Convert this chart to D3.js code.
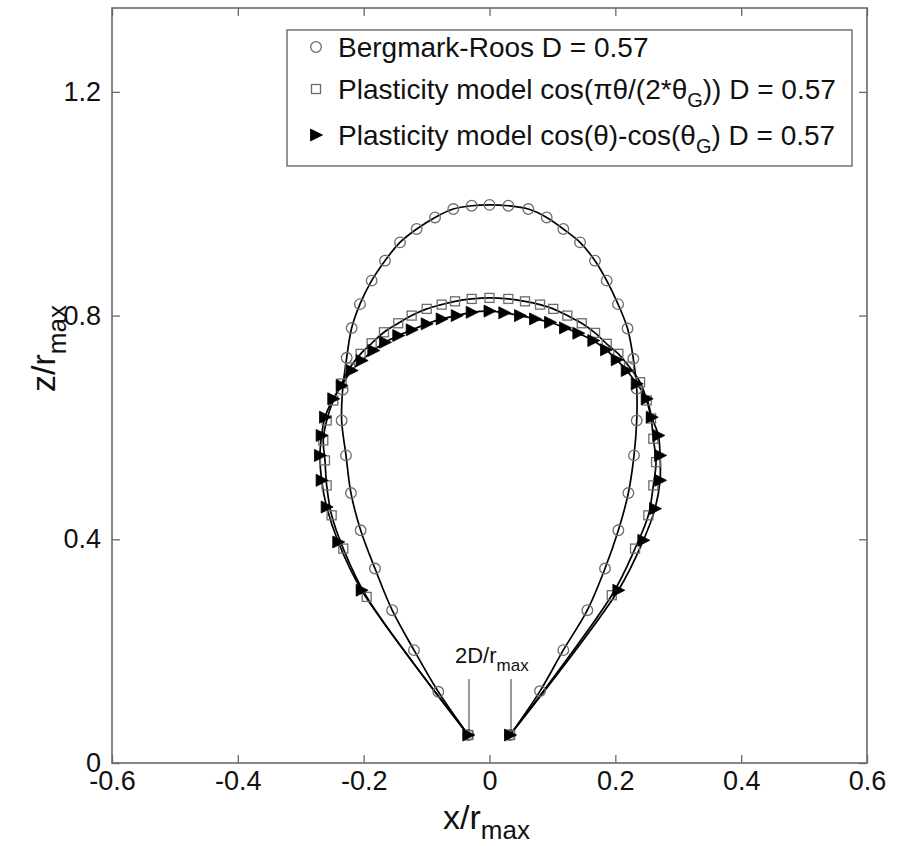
<!DOCTYPE html>
<html><head><meta charset="utf-8">
<script src="https://cdn.jsdelivr.net/npm/d3@7"></script>
<style>
body{margin:0;background:#fff}
svg{display:block}
text{font-family:"Liberation Sans",Arial,Helvetica,sans-serif;fill:#111}
</style>
</head><body>
<svg id="chart" width="902" height="846"></svg>
<script>
// ---- data ----
const xTicks = [-0.6, -0.4, -0.2, 0, 0.2, 0.4, 0.6];
const xTickLabels = ["-0.6", "-0.4", "-0.2", "0", "0.2", "0.4", "0.6"];
const yTicks = [0, 0.4, 0.8, 1.2];
const yTickLabels = ["0", "0.4", "0.8", "1.2"];

// Bergmark-Roos D = 0.57 (circles)
const brX = [-0.0337,-0.0814,-0.1200,-0.1547,-0.1820,-0.2048,-0.2202,-0.2281,-0.2350,-0.2334,-0.2270,-0.2191,-0.2059,-0.1873,-0.1661,-0.1423,-0.1157,-0.0866,-0.0576,-0.0283,0,0.0299,0.0617,0.0909,0.1173,0.1439,0.1677,0.1863,0.2043,0.2194,0.2286,0.2340,0.2340,0.2297,0.2207,0.2048,0.1836,0.1555,0.1173,0.0803,0.0326];
const brZ = [0.050,0.1273,0.2018,0.2732,0.3477,0.4161,0.4827,0.5500,0.6125,0.6673,0.7245,0.7777,0.8205,0.8625,0.8982,0.9309,0.9548,0.9755,0.9905,0.9964,0.998,0.9964,0.9905,0.9755,0.9548,0.9309,0.8982,0.8625,0.8205,0.7768,0.7227,0.6691,0.6125,0.5500,0.4827,0.4161,0.3477,0.2732,0.2018,0.1286,0.050];

// Plasticity model cos(pi*theta/(2*thetaG)) D = 0.57 (squares)
const cosX = [-0.0337,-0.1952,-0.2324,-0.2509,-0.2588,-0.2615,-0.2642,-0.2588,-0.2483,-0.2350,-0.2218,-0.2048,-0.1873,-0.1677,-0.1450,-0.1237,-0.0998,-0.0760,-0.0548,-0.0283,0,0.0299,0.0564,0.0803,0.1014,0.1237,0.1466,0.1677,0.1863,0.2048,0.2218,0.2393,0.2499,0.2568,0.2604,0.2647,0.2604,0.2525,0.2313,0.1943,0.0326];
const cosZ = [0.050,0.2970,0.3834,0.4429,0.4964,0.5411,0.5768,0.6125,0.6482,0.6786,0.7071,0.7316,0.7505,0.7702,0.7863,0.8000,0.8120,0.8196,0.8255,0.8298,0.8316,0.8298,0.8255,0.8196,0.8120,0.8000,0.7863,0.7691,0.7495,0.7316,0.7089,0.6809,0.6482,0.6161,0.5798,0.5380,0.4964,0.4429,0.3834,0.3000,0.050];

// Plasticity model cos(theta)-cos(thetaG) D = 0.57 (filled triangles)
const difX = [-0.0337,-0.2032,-0.2404,-0.2588,-0.2668,-0.2695,-0.2668,-0.2615,-0.2483,-0.2350,-0.2191,-0.2032,-0.1847,-0.1661,-0.1450,-0.1237,-0.0998,-0.0760,-0.0521,-0.0283,0,0.0235,0.0485,0.0723,0.0962,0.1200,0.1412,0.1650,0.1852,0.2022,0.2181,0.2340,0.2499,0.2579,0.2684,0.2711,0.2711,0.2631,0.2445,0.2048,0.0326];
const difZ = [0.050,0.3089,0.3952,0.4577,0.5054,0.5500,0.5857,0.6184,0.6513,0.6750,0.7018,0.7196,0.7375,0.7523,0.7643,0.7745,0.7852,0.7941,0.8000,0.8059,0.8080,0.8050,0.8000,0.7941,0.7880,0.7780,0.7684,0.7554,0.7388,0.7209,0.7018,0.6780,0.6513,0.6184,0.5857,0.5500,0.5054,0.4548,0.3982,0.3089,0.050];

// 2D/r_max annotation guide lines (data units)
const gapX = [-0.0326, 0.0342];
const gapZ = [0.055, 0.15];

// ---- drawing ----
const svg = d3.select("#chart");
const L = 112, T = 8, W = 755, H = 755;
const x = d3.scaleLinear().domain([-0.6, 0.6]).range([L, L + W]);
const y = d3.scaleLinear().domain([0, 1.35]).range([T + H, T]);
const frame = "#6a6a6a";
const markGray = "#6c6c6c";

svg.append("rect").attr("width", 902).attr("height", 846).attr("fill", "#fff");

function styleAxis(g) {
  g.select(".domain").remove();
  g.selectAll(".tick line").attr("stroke", frame).attr("stroke-width", 1.3);
  g.selectAll(".tick text").attr("fill", "#111").style("font-size", "27px")
    .style("font-family", "'Liberation Sans', Arial, sans-serif");
}

svg.append("g").attr("transform", `translate(0,${T + H})`)
  .call(d3.axisBottom(x).tickValues(xTicks).tickSize(-8).tickPadding(8)
    .tickFormat((d, i) => xTickLabels[i]))
  .call(styleAxis);
svg.append("g").attr("transform", `translate(${L},0)`)
  .call(d3.axisLeft(y).tickValues(yTicks).tickSize(-8).tickPadding(11)
    .tickFormat((d, i) => yTickLabels[i]))
  .call(styleAxis);
svg.append("g").attr("transform", `translate(0,${T})`)
  .call(d3.axisTop(x).tickValues(xTicks).tickSize(-8).tickFormat(""))
  .call(styleAxis);
svg.append("g").attr("transform", `translate(${L + W},0)`)
  .call(d3.axisRight(y).tickValues(yTicks).tickSize(-8).tickFormat(""))
  .call(styleAxis);

svg.append("rect").attr("x", L).attr("y", T).attr("width", W).attr("height", H)
  .attr("fill", "none").attr("stroke", frame).attr("stroke-width", 1.6);

// series
const series = [
  { xs: brX, zs: brZ, marker: "circle" },
  { xs: cosX, zs: cosZ, marker: "square" },
  { xs: difX, zs: difZ, marker: "triangle" }
];
const line = d3.line().x(d => x(d[0])).y(d => y(d[1])).curve(d3.curveCatmullRom.alpha(0.5));
const plot = svg.append("g");
series.forEach(s => {
  const pts = s.xs.map((v, i) => [v, s.zs[i]]);
  plot.append("path").attr("d", line(pts)).attr("fill", "none")
    .attr("stroke", "#000").attr("stroke-width", 1.7);
});
const triPath = "M-5.5,-6L6.5,0L-5.5,6Z";
function drawMarker(g, type, cx, cy) {
  if (type === "circle") {
    g.append("circle").attr("cx", cx).attr("cy", cy).attr("r", 5.3)
      .attr("fill", "none").attr("stroke", markGray).attr("stroke-width", 1.3);
  } else if (type === "square") {
    g.append("rect").attr("x", cx - 4.5).attr("y", cy - 4.5).attr("width", 9).attr("height", 9)
      .attr("fill", "none").attr("stroke", markGray).attr("stroke-width", 1.3);
  } else {
    g.append("path").attr("d", triPath).attr("transform", `translate(${cx},${cy})`)
      .attr("fill", "#000").attr("stroke", "#000").attr("stroke-width", 0.8);
  }
}
series.forEach(s => {
  s.xs.forEach((v, i) => drawMarker(plot, s.marker, x(v), y(s.zs[i])));
});

// annotation 2D/r_max
gapX.forEach(v => {
  svg.append("line").attr("x1", x(v)).attr("x2", x(v))
    .attr("y1", y(gapZ[1])).attr("y2", y(gapZ[0]))
    .attr("stroke", "#333").attr("stroke-width", 1);
});
const ann = svg.append("text").attr("x", 455).attr("y", 663).style("font-size", "22px");
ann.append("tspan").text("2D/r");
ann.append("tspan").attr("dy", 8).style("font-size", "17px").text("max");

// axis titles
const xt = svg.append("text").attr("x", 443).attr("y", 829).style("font-size", "34px");
xt.append("tspan").text("x/r");
xt.append("tspan").attr("dy", 10).style("font-size", "26px").text("max");

const yt = svg.append("text").attr("transform", "translate(55,392) rotate(-90)").style("font-size", "34px");
yt.append("tspan").text("z/r");
yt.append("tspan").attr("dy", 11).style("font-size", "26px").text("max");

// legend
const lg = svg.append("g");
lg.append("rect").attr("x", 287).attr("y", 30).attr("width", 565).attr("height", 136)
  .attr("fill", "#fff").attr("stroke", frame).attr("stroke-width", 1.4);
const rows = [47, 89, 135];
const mk = ["circle", "square", "triangle"];
rows.forEach((ry, i) => drawMarker(lg, mk[i], 316, ry));
const t1 = lg.append("text").attr("x", 338).attr("y", rows[0] + 10).style("font-size", "28px");
t1.text("Bergmark-Roos D = 0.57");
const t2 = lg.append("text").attr("x", 338).attr("y", rows[1] + 10).style("font-size", "28px");
t2.append("tspan").text("Plasticity model cos(\u03C0\u03B8/(2*\u03B8");
t2.append("tspan").attr("dy", 8).style("font-size", "20px").text("G");
t2.append("tspan").attr("dy", -8).text(")) D = 0.57");
const t3 = lg.append("text").attr("x", 338).attr("y", rows[2] + 10).style("font-size", "28px");
t3.append("tspan").text("Plasticity model cos(\u03B8)-cos(\u03B8");
t3.append("tspan").attr("dy", 8).style("font-size", "20px").text("G");
t3.append("tspan").attr("dy", -8).text(") D = 0.57");
</script>
</body></html>
